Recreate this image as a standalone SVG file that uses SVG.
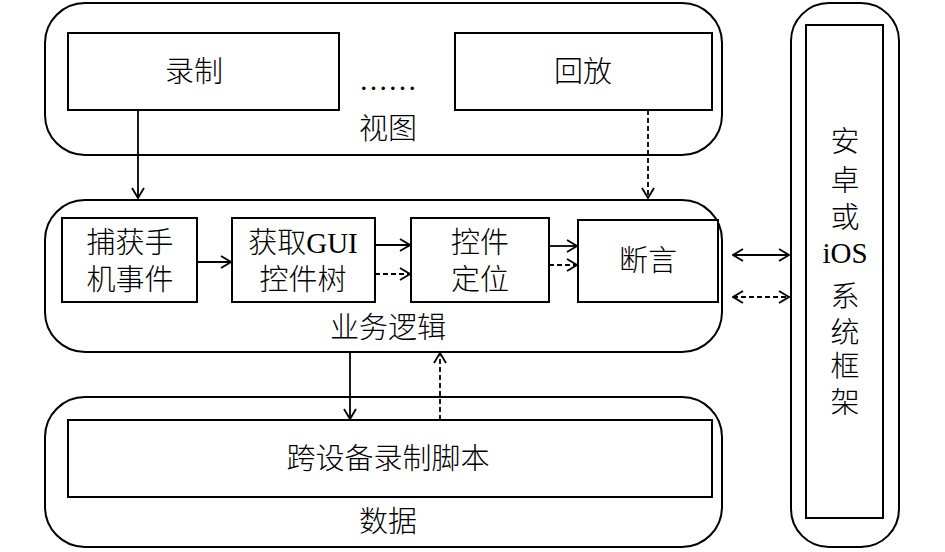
<svg xmlns="http://www.w3.org/2000/svg" width="945" height="552" viewBox="0 0 945 552">
<style>
.c{fill:none;stroke:#000;stroke-width:2}
.b{fill:#fff;stroke:#000;stroke-width:2}
.t{font-family:"Liberation Serif","Noto Sans CJK SC",serif;font-size:29px;font-weight:300;fill:#000;text-anchor:middle;dominant-baseline:central}
.s{fill:none;stroke:#000;stroke-width:1.8}
.d{fill:none;stroke:#000;stroke-width:1.8;stroke-dasharray:5,3}
</style>
<defs>
<marker id="ah" markerWidth="12" markerHeight="14" refX="11" refY="7" orient="auto-start-reverse" markerUnits="userSpaceOnUse">
<path d="M1,1 L11,7 L1,13" fill="none" stroke="#000" stroke-width="1.8"/>
</marker>
</defs>
<g id="view">
<rect class="c" x="45" y="3" width="677" height="152" rx="40"/>
<g id="record"><rect class="b" x="68" y="33" width="271" height="77"/><text class="t" x="194" y="72">录制</text></g>
<text class="t" x="388" y="80">……</text>
<g id="playback"><rect class="b" x="455" y="33" width="257" height="77"/><text class="t" x="583" y="72">回放</text></g>
<text class="t" x="388" y="129">视图</text>
</g>
<g id="logic">
<rect class="c" x="45" y="200" width="677" height="152" rx="40"/>
<g id="capture"><rect class="b" x="62" y="218" width="135" height="84"/><text class="t" x="130" y="243">捕获手</text><text class="t" x="130" y="280">机事件</text></g>
<g id="guitree"><rect class="b" x="232" y="218" width="143" height="84"/><text class="t" x="303" y="243">获取GUI</text><text class="t" x="303" y="280">控件树</text></g>
<g id="locate"><rect class="b" x="411" y="218" width="138" height="84"/><text class="t" x="480" y="243">控件</text><text class="t" x="480" y="280">定位</text></g>
<g id="assert"><rect class="b" x="578" y="220" width="140" height="82"/><text class="t" x="648" y="261">断言</text></g>
<text class="t" x="388" y="328">业务逻辑</text>
</g>
<g id="data">
<rect class="c" x="45" y="397" width="677" height="150" rx="40"/>
<g id="script"><rect class="b" x="68" y="420" width="644" height="77"/><text class="t" x="388" y="459">跨设备录制脚本</text></g>
<text class="t" x="388" y="522">数据</text>
</g>
<g id="system">
<rect class="c" x="791" y="3" width="108" height="544" rx="38"/>
<rect class="b" x="806" y="25" width="77" height="493"/>
<text class="t" x="845" y="142">安</text>
<text class="t" x="845" y="181">卓</text>
<text class="t" x="845" y="218">或</text>
<text class="t" x="845" y="253">iOS</text>
<text class="t" x="845" y="297">系</text>
<text class="t" x="845" y="333">统</text>
<text class="t" x="845" y="367">框</text>
<text class="t" x="845" y="403">架</text>
</g>
<g id="connectors">
<line class="s" x1="138" y1="110" x2="138" y2="198" marker-end="url(#ah)"/>
<line class="d" x1="648" y1="110" x2="648" y2="198" marker-end="url(#ah)"/>
<line class="s" x1="197" y1="262" x2="231" y2="262" marker-end="url(#ah)"/>
<line class="s" x1="375" y1="245" x2="410" y2="245" marker-end="url(#ah)"/>
<line class="d" x1="375" y1="274" x2="410" y2="274" marker-end="url(#ah)"/>
<line class="s" x1="549" y1="246" x2="577" y2="246" marker-end="url(#ah)"/>
<line class="d" x1="549" y1="265" x2="577" y2="265" marker-end="url(#ah)"/>
<line class="s" x1="733" y1="255" x2="789" y2="255" marker-start="url(#ah)" marker-end="url(#ah)"/>
<line class="d" x1="733" y1="297" x2="789" y2="297" marker-start="url(#ah)" marker-end="url(#ah)"/>
<line class="s" x1="350" y1="352" x2="350" y2="419" marker-end="url(#ah)"/>
<line class="d" x1="440" y1="420" x2="440" y2="353" marker-end="url(#ah)"/>
</g>
</svg>
